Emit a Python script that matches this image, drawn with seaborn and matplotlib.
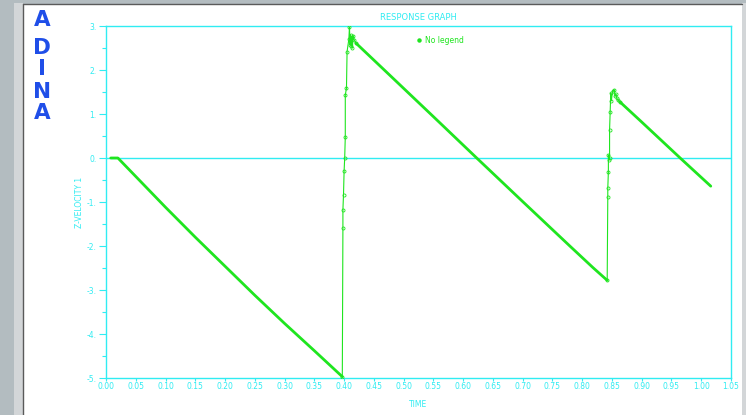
import matplotlib
matplotlib.use("Agg")
import matplotlib.pyplot as plt
from matplotlib.patches import Rectangle
from matplotlib.lines import Line2D
from matplotlib.ticker import MultipleLocator, FuncFormatter
import seaborn as sns
import pandas as pd

# Z-velocity response, split into the smooth ramps and the impact jumps
ramp1_t = [0.008, 0.020, 0.050, 0.100, 0.150, 0.200, 0.250, 0.300, 0.350, 0.397]
ramp1_v = [0.0, 0.0, -0.42, -1.12, -1.80, -2.46, -3.12, -3.76, -4.38, -4.97]

jump1_t = [0.397, 0.398, 0.398, 0.399, 0.400, 0.401, 0.402, 0.402, 0.404, 0.405,
           0.408, 0.409, 0.410, 0.411, 0.412, 0.413, 0.414, 0.415, 0.417, 0.420]
jump1_v = [-4.97, -1.60, -1.18, -0.84, -0.30, 0.00, 0.48, 1.43, 1.59, 2.42,
           2.70, 2.97, 2.57, 2.80, 2.55, 2.76, 2.50, 2.78, 2.68, 2.61]

ramp2_t = [0.420, 0.480, 0.550, 0.622, 0.700, 0.780, 0.818, 0.842]
ramp2_v = [2.61, 1.84, 0.94, 0.01, -0.99, -2.01, -2.49, -2.78]

jump2_t = [0.842, 0.843, 0.843, 0.844, 0.844, 0.845, 0.846, 0.846, 0.847, 0.848,
           0.849, 0.851, 0.854, 0.855, 0.857, 0.858, 0.860, 0.863]
jump2_v = [-2.78, -0.88, -0.69, -0.31, 0.07, -0.05, 0.00, 0.64, 1.05, 1.47,
           1.30, 1.52, 1.55, 1.40, 1.45, 1.36, 1.32, 1.28]

ramp3_t = [0.863, 0.899, 0.967, 1.016]
ramp3_v = [1.28, 0.83, -0.03, -0.64]

x_ticks = [i * 0.05 for i in range(22)]
y_ticks = [-5, -4, -3, -2, -1, 0, 1, 2, 3]

title = "RESPONSE GRAPH"
x_label = "TIME"
y_label = "Z-VELOCITY 1"
legend_label = "No legend"

CYAN = "#30ecf2"
GREEN = "#1fe51f"
W, H = 746, 415

sns.set_theme(style="white")
plt.rcParams["font.family"] = ["DejaVu Sans"]

fig = plt.figure(figsize=(W / 100, H / 100), dpi=100)
fig.patch.set_facecolor("#b3bcc0")

# window background
fig.add_artist(Rectangle((14 / W, 0), 9 / W, 1 - 3 / H, transform=fig.transFigure,
                         facecolor="#d3d6d8", edgecolor="none", zorder=0))
fig.add_artist(Rectangle((23 / W, 0), (742 - 23) / W, 1 - 4 / H, transform=fig.transFigure,
                         facecolor="white", edgecolor="none", zorder=0))
fig.add_artist(Rectangle((742 / W, 0), 4 / W, 1 - 3 / H, transform=fig.transFigure,
                         facecolor="#d3d6d8", edgecolor="none", zorder=0))
fig.add_artist(Line2D([23 / W, 23 / W], [0, 1 - 4 / H], transform=fig.transFigure,
                      color="#5a5a5a", lw=1.0, zorder=1))
fig.add_artist(Line2D([23 / W, 742 / W], [1 - 4 / H, 1 - 4 / H], transform=fig.transFigure,
                      color="#5a5a5a", lw=1.0, zorder=1))

# ADINA logo
for letter, yc in zip("ADINA", [20.5, 47.5, 69.0, 91.5, 112.5]):
    fig.text(42 / W, 1 - yc / H, letter, ha="center", va="center",
             fontsize=15.5, fontweight="heavy", color="#1f4ee8",
             family="DejaVu Sans")

ax = fig.add_axes([106 / W, 1 - 378 / H, (731 - 106) / W, (378 - 26) / H])
ax.set_facecolor("white")

ax.axhline(0, color=CYAN, lw=1.0, zorder=1)

def draw(t, v, lw, marker=False):
    df = pd.DataFrame({"t": t, "v": v})
    kw = {}
    if marker:
        kw = dict(marker="o", markersize=2.2, markerfacecolor="none",
                  markeredgecolor=GREEN, markeredgewidth=0.6)
    sns.lineplot(data=df, x="t", y="v", ax=ax, color=GREEN, lw=lw,
                 estimator=None, sort=False, zorder=3, **kw)

draw(ramp1_t, ramp1_v, 2.0)
draw(jump1_t, jump1_v, 0.8, marker=True)
draw(ramp2_t, ramp2_v, 2.0)
draw(jump2_t, jump2_v, 0.8, marker=True)
draw(ramp3_t, ramp3_v, 2.0)

ax.set_xlim(0, 1.05)
ax.set_ylim(-5, 3)
ax.set_xticks(x_ticks)
ax.set_yticks(y_ticks)
ax.yaxis.set_minor_locator(MultipleLocator(0.5))
ax.xaxis.set_major_formatter(FuncFormatter(lambda v, p: f"{v:.2f}"))
ax.yaxis.set_major_formatter(FuncFormatter(lambda v, p: f"{int(round(v))}."))

for s in ax.spines.values():
    s.set_color(CYAN)
    s.set_linewidth(1.0)

ax.tick_params(axis="both", which="both", colors=CYAN, labelcolor=CYAN,
               direction="out", labelsize=5.5, width=0.8)
ax.tick_params(axis="y", which="major", length=5, pad=2, left=True)
ax.tick_params(axis="y", which="minor", length=3, left=True)
ax.tick_params(axis="x", which="major", length=2.5, pad=0.5, bottom=True)

ax.set_xlabel(x_label, color=CYAN, fontsize=5.5, labelpad=6)
ax.set_ylabel(y_label, color=CYAN, fontsize=5.5, labelpad=2)
ax.set_title(title, color=CYAN, fontsize=6, pad=4)

handle = Line2D([], [], marker="o", ls="none", color=GREEN, markersize=2.2)
leg = ax.legend([handle], [legend_label], loc="center left",
                bbox_to_anchor=(0.497, 0.96), frameon=False, fontsize=5.5,
                handlelength=0.6, handletextpad=0.5, borderaxespad=0, borderpad=0)
for txt in leg.get_texts():
    txt.set_color(GREEN)

fig.savefig("out.png", dpi=100, facecolor=fig.get_facecolor())
